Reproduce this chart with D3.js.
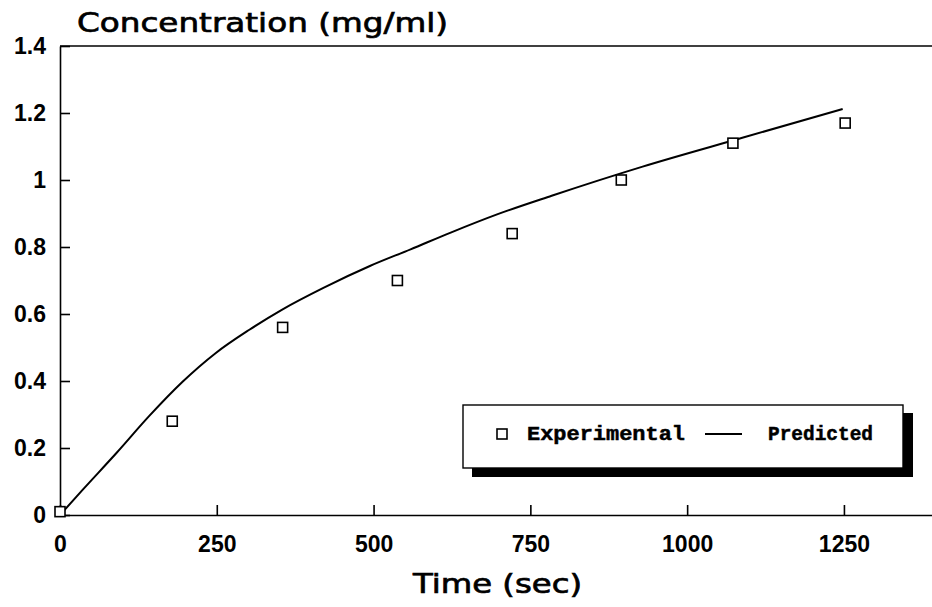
<!DOCTYPE html>
<html>
<head>
<meta charset="utf-8">
<script src="https://cdn.jsdelivr.net/npm/d3@7"></script>
<style>
  body { margin: 0; background: #fff; }
  .tick text { font-family: "Liberation Sans", sans-serif; font-weight: bold; font-size: 23px; fill: #000; }
  .tick line, .domain { stroke: #000; stroke-width: 1.6px; }
</style>
</head>
<body>
<div id="graph"></div>
<script>
// experimental points
var timeExp = [0, 179, 355, 538, 721, 895, 1073, 1252];
var concExp = [0.01, 0.28, 0.56, 0.70, 0.84, 1.00, 1.11, 1.17];
// predicted curve
var timePred = [0, 36, 90, 142, 195, 248, 302, 355, 420, 495, 559, 623, 698, 784, 929, 1088, 1248];
var concPred = [0, 0.075, 0.185, 0.295, 0.397, 0.483, 0.553, 0.614, 0.678, 0.744, 0.793, 0.843, 0.898, 0.953, 1.040, 1.126, 1.212];
var xTicks = [0, 250, 500, 750, 1000, 1250];
var yTicks = [0, 0.2, 0.4, 0.6, 0.8, 1, 1.2, 1.4];
var yTickLabels = ["0", "0.2", "0.4", "0.6", "0.8", "1", "1.2", "1.4"];
var legendLabels = ["Experimental", "Predicted"];

var width = 932, height = 607;

var svg = d3.select("#graph").append("svg")
    .attr("width", width)
    .attr("height", height);

var x = d3.scaleLinear().domain([0, 1400]).range([60, 938]);
var y = d3.scaleLinear().domain([0, 1.4]).range([515, 46]);

// top border
svg.append("line")
    .attr("x1", x(0)).attr("x2", width)
    .attr("y1", y(1.4)).attr("y2", y(1.4))
    .style("stroke", "#000").style("stroke-width", 1.6);

svg.append("g")
    .attr("transform", "translate(0," + y(0) + ")")
    .call(d3.axisBottom(x).tickValues(xTicks).tickSizeInner(-10).tickSizeOuter(0).tickPadding(21)
        .tickFormat(d3.format("d")));

svg.append("g")
    .attr("transform", "translate(" + x(0) + ",0)")
    .call(d3.axisLeft(y).tickValues(yTicks).tickSizeInner(-10).tickSizeOuter(0).tickPadding(14)
        .tickFormat(function(d, i) { return yTickLabels[i]; }));

// title and x label
svg.append("text")
    .attr("x", 77).attr("y", 32)
    .style("font-family", "DejaVu Sans").style("font-size", "27px")
    .style("stroke", "#000").style("stroke-width", 0.7)
    .attr("textLength", 371).attr("lengthAdjust", "spacingAndGlyphs")
    .text("Concentration (mg/ml)");

svg.append("text")
    .attr("x", 413).attr("y", 593)
    .style("font-family", "DejaVu Sans").style("font-size", "27px")
    .style("stroke", "#000").style("stroke-width", 0.7)
    .attr("textLength", 169).attr("lengthAdjust", "spacingAndGlyphs")
    .text("Time (sec)");

// predicted line
var pred = timePred.map(function(t, i) { return {t: t, c: concPred[i]}; });
var line = d3.line()
    .curve(d3.curveMonotoneX)
    .x(function(d) { return x(d.t); })
    .y(function(d) { return y(d.c); });
svg.append("path")
    .datum(pred)
    .attr("d", line)
    .style("fill", "none")
    .style("stroke", "#000")
    .style("stroke-width", 2);

// experimental squares
var exp = timeExp.map(function(t, i) { return {t: t, c: concExp[i]}; });
var s = 10;
svg.selectAll(".dot")
    .data(exp)
  .enter().append("rect")
    .attr("class", "dot")
    .attr("x", function(d) { return x(d.t) - s / 2; })
    .attr("y", function(d) { return y(d.c) - s / 2; })
    .attr("width", s).attr("height", s)
    .style("fill", "#fff")
    .style("stroke", "#000")
    .style("stroke-width", 1.6);

// legend with drop shadow
var lg = svg.append("g");
lg.append("rect")
    .attr("x", 472).attr("y", 413).attr("width", 441).attr("height", 64)
    .style("fill", "#000");
lg.append("rect")
    .attr("x", 463).attr("y", 405).attr("width", 440).attr("height", 63)
    .style("fill", "#fff").style("stroke", "#000").style("stroke-width", 1.4);
lg.append("rect")
    .attr("x", 497).attr("y", 429).attr("width", 10).attr("height", 10)
    .style("fill", "#fff").style("stroke", "#000").style("stroke-width", 1.6);
lg.append("line")
    .attr("x1", 705).attr("x2", 742).attr("y1", 434).attr("y2", 434)
    .style("stroke", "#000").style("stroke-width", 2);
lg.append("text")
    .attr("x", 527).attr("y", 440)
    .style("font-family", "Liberation Mono").style("font-weight", "bold").style("font-size", "21px")
    .style("stroke", "#000").style("stroke-width", 0.5)
    .attr("textLength", 158).attr("lengthAdjust", "spacingAndGlyphs")
    .text(legendLabels[0]);
lg.append("text")
    .attr("x", 768).attr("y", 440)
    .style("font-family", "Liberation Mono").style("font-weight", "bold").style("font-size", "21px")
    .style("stroke", "#000").style("stroke-width", 0.5)
    .attr("textLength", 105).attr("lengthAdjust", "spacingAndGlyphs")
    .text(legendLabels[1]);
</script>
</body>
</html>
